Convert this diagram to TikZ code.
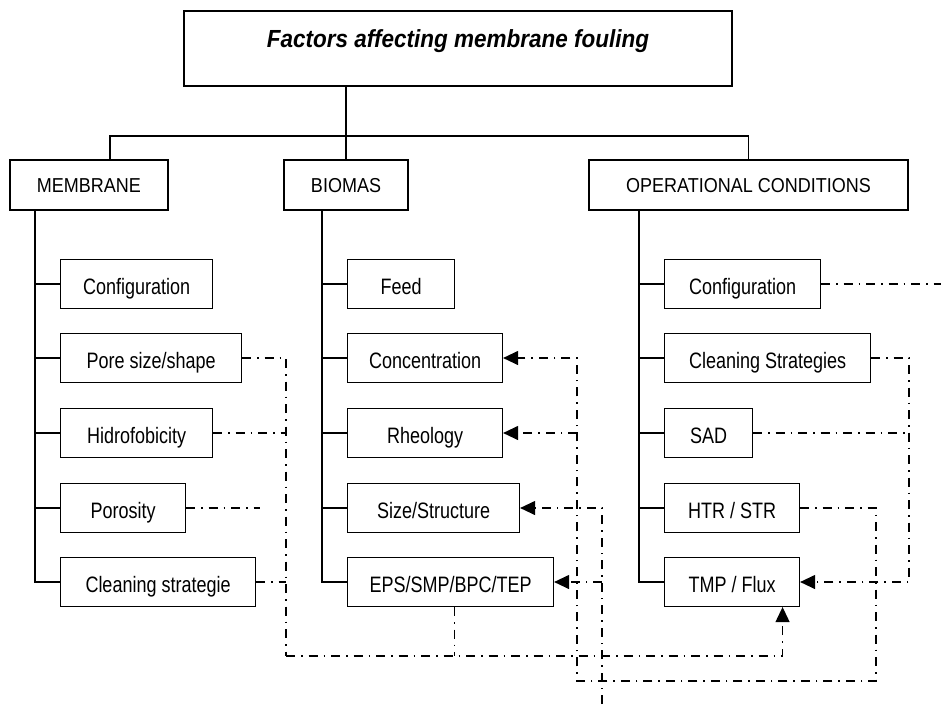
\documentclass[tikz,border=0pt]{standalone}
\usepackage{fontspec}
\usepackage{graphicx}
\setmainfont{Liberation Sans}
\usetikzlibrary{arrows.meta}
\newcommand{\tallA}[1]{\scalebox{1}[1.24]{#1}}
\newcommand{\tallB}[1]{\scalebox{1}[1.12]{#1}}

\begin{document}
\begin{tikzpicture}[x=1pt,y=-1pt,line width=1.1pt,
  box/.style={draw, minimum height=50pt, inner sep=0pt, text height=20pt, text depth=6pt,
    font=\fontsize{18}{21}\selectfont},
  sub/.style={box, anchor=west, minimum height=49pt, text height=24pt, text depth=4pt},
  ddot/.style={line width=1.2pt, dash pattern=on 9pt off 6pt on 1.5pt off 6pt},
  arr/.style={ddot, -{Triangle[length=15pt,width=14pt]}}]
\useasboundingbox (0,0) rectangle (941,704);
\node[box, minimum width=548pt, minimum height=75pt, text height=16pt, text depth=19pt,
  font=\fontsize{22.5}{26}\selectfont\bfseries\itshape] (fac0) at (458,48.5) {\scalebox{1}[1.1]{Factors affecting membrane fouling}};
\node[box, minimum width=158pt] (fac1) at (89,185) {\tallB{MEMBRANE}};
\node[box, minimum width=124pt] (fac2) at (346,185) {\tallB{BIOMAS}};
\node[box, minimum width=319pt] (fac3) at (748.5,185) {\tallB{OPERATIONAL CONDITIONS}};
\coordinate (bus) at (110,136);
\draw (fac0.south -| fac2.north) -- (fac2.north);
\draw (bus |- fac1.north) -- (bus) -| (fac3.north);
% membrane
\node[sub, minimum width=152pt] (mem1) at (60,284) {\tallA{Configuration}};
\node[sub, minimum width=181pt] (mem2) at (60,358) {\tallA{Pore size/shape}};
\node[sub, minimum width=152pt] (mem3) at (60,433) {\tallA{Hidrofobicity}};
\node[sub, minimum width=125pt] (mem4) at (60,508) {\tallA{Porosity}};
\node[sub, minimum width=195pt] (mem5) at (60,582) {\tallA{Cleaning strategie}};
\coordinate (t1) at (35,210);
\draw (t1) |- (mem5.west);
\draw (t1 |- mem1.west) -- (mem1.west);
\draw (t1 |- mem2.west) -- (mem2.west);
\draw (t1 |- mem3.west) -- (mem3.west);
\draw (t1 |- mem4.west) -- (mem4.west);
% biomas
\node[sub, minimum width=107pt] (bio1) at (347,284) {\tallA{Feed}};
\node[sub, minimum width=155pt] (bio2) at (347,358) {\tallA{Concentration}};
\node[sub, minimum width=155pt] (bio3) at (347,433) {\tallA{Rheology}};
\node[sub, minimum width=172pt] (bio4) at (347,508) {\tallA{Size/Structure}};
\node[sub, minimum width=206pt] (bio5) at (347,582) {\tallA{EPS/SMP/BPC/TEP}};
\coordinate (t2) at (322,210);
\draw (t2) |- (bio5.west);
\draw (t2 |- bio1.west) -- (bio1.west);
\draw (t2 |- bio2.west) -- (bio2.west);
\draw (t2 |- bio3.west) -- (bio3.west);
\draw (t2 |- bio4.west) -- (bio4.west);
% operational conditions
\node[sub, minimum width=156pt] (ope1) at (664,284) {\tallA{Configuration}};
\node[sub, minimum width=206pt] (ope2) at (664,358) {\tallA{Cleaning Strategies}};
\node[sub, minimum width=88pt] (ope3) at (664,433) {\tallA{SAD}};
\node[sub, minimum width=135pt] (ope4) at (664,508) {\tallA{HTR / STR}};
\node[sub, minimum width=135pt] (ope5) at (664,582) {\tallA{TMP / Flux}};
\coordinate (t3) at (639,210);
\draw (t3) |- (ope5.west);
\draw (t3 |- ope1.west) -- (ope1.west);
\draw (t3 |- ope2.west) -- (ope2.west);
\draw (t3 |- ope3.west) -- (ope3.west);
\draw (t3 |- ope4.west) -- (ope4.west);
% dash-dot links
\coordinate (j0) at (260,508);
\coordinate (j1) at (286,656);
\draw[ddot] (mem2.east) -| (j1);
\draw[ddot] (mem3.east) -- (mem3.east -| j1);
\draw[ddot] (mem4.east) -- (j0);
\draw[ddot] (mem5.east) -- (mem5.east -| j1);
\draw[ddot] ([xshift=4pt]bio5.south) -- ([xshift=4pt]bio5.south |- j1);
\draw[arr] (j1) -| ([xshift=50.5pt]ope5.south);
\coordinate (j2) at (876,681);
\coordinate (j3) at (577,681);
\draw[arr] (ope4.east) -| (j2) -- (j3) |- (bio2.east);
\draw[arr] (bio3.east -| j3) -- (bio3.east);
\coordinate (j4) at (941,284);
\coordinate (j5) at (602,704);
\draw[ddot] (ope1.east) -- (j4);
\draw[arr] (j5) |- (bio4.east);
\draw[arr] (bio5.east -| j5) -- (bio5.east);
\coordinate (j6) at (909,582);
\draw[arr] (ope2.east) -| (j6) -- (ope5.east);
\draw[ddot] (ope3.east) -- (ope3.east -| j6);
\end{tikzpicture}
\end{document}
